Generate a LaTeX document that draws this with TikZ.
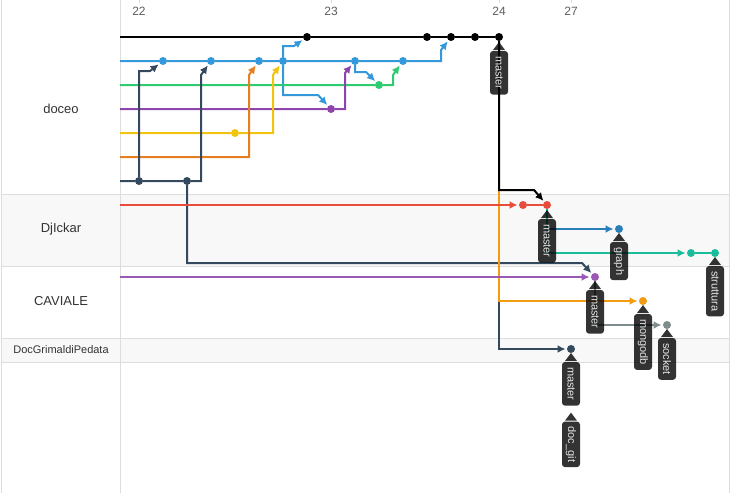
\documentclass[tikz,border=0pt]{standalone}
\usepackage{fontspec}
\setmainfont{Liberation Sans}
\usepackage{xcolor}
\usepackage{tikz}
\usetikzlibrary{arrows.meta}
\definecolor{Azure}{HTML}{3498DB}
\definecolor{Emerald}{HTML}{2ECC71}
\definecolor{Wisteria}{HTML}{8E44AD}
\definecolor{Sunflower}{HTML}{F1C40F}
\definecolor{Carrot}{HTML}{E67E22}
\definecolor{Slate}{HTML}{34495E}
\definecolor{Alizarin}{HTML}{E74C3C}
\definecolor{Ocean}{HTML}{2980B9}
\definecolor{Turquoise}{HTML}{1ABC9C}
\definecolor{Amethyst}{HTML}{9B59B6}
\definecolor{Amber}{HTML}{F39C12}
\definecolor{Asbestos}{HTML}{7F8C8D}
\definecolor{Grid}{HTML}{DDDDDD}
\definecolor{Shade}{HTML}{F8F8F8}
\definecolor{Ink}{HTML}{333333}
\newcommand{\reftag}[3]{%
  \node[reftag] (#1) at #2 {#3};
  \fill[black,fill opacity=0.8] ([xshift=-6pt]#1.west) -- ([yshift=8pt]#1.west) -- ([xshift=6pt]#1.west) -- cycle;}

\begin{document}
\begin{tikzpicture}[x=1pt,y=-1pt,line width=2pt,
  commit/.style={circle,fill=#1,inner sep=0pt,outer sep=0pt,minimum size=8pt},
  into/.style={-{Latex[length=8pt,width=8pt]},shorten >=1.5pt},
  reftag/.style={rotate=-90,anchor=west,fill=black,fill opacity=0.8,text opacity=1,
    text=white!90!black,rounded corners=3pt,inner xsep=5pt,inner ysep=0pt,minimum height=18pt,
    font=\fontsize{11}{11}\selectfont},
  gridline/.style={draw=Grid,line width=1pt},
  rowlabel/.style={text=Ink,font=\fontsize{13}{15}\selectfont}]
  \useasboundingbox (0,0) rectangle (731,493);
  \fill[Shade] (1,194) rectangle (729,266);
  \fill[Shade] (1,338) rectangle (729,362);
  \foreach \y in {194,266,338,362} \draw[gridline] (1,\y) -- (729,\y);
  \foreach \x in {1,120,729} \draw[gridline] (\x,0) -- (\x,493);
  \foreach \x/\d in {139/22,331/23,499/24,571/27} {
    \draw[gridline] (\x,0) -- (\x,3);
    \node[text=Ink!80,font=\fontsize{12}{14}\selectfont] (day\d) at (\x,11) {\d};
  }
  \node[rowlabel] (doceo) at (61,109) {doceo};
  \node[rowlabel] (djickar) at (61,229) {DjIckar};
  \node[rowlabel] (caviale) at (61,301) {CAVIALE};
  \node[rowlabel,font=\fontsize{11}{13}\selectfont] (docgrim) at (61,350) {DocGrimaldiPedata};

  \coordinate (sm) at (120,37);
  \coordinate (sb) at (120,61);
  \coordinate (sg) at (120,85);
  \coordinate (sp) at (120,109);
  \coordinate (sy) at (120,133);
  \coordinate (so) at (120,157);
  \coordinate (sn) at (120,181);
  \coordinate (sr) at (120,205);
  \coordinate (sc) at (120,277);

  \node[commit=black] (m1) at (307,37) {};
  \node[commit=black] (m2) at (427,37) {};
  \node[commit=black] (m3) at (451,37) {};
  \node[commit=black] (m4) at (475,37) {};
  \node[commit=black] (m5) at (499,37) {};
  \node[commit=Azure] (b1) at (163,61) {};
  \node[commit=Azure] (b2) at (211,61) {};
  \node[commit=Azure] (b3) at (259,61) {};
  \node[commit=Azure] (b4) at (283,61) {};
  \node[commit=Azure] (b5) at (355,61) {};
  \node[commit=Azure] (b6) at (403,61) {};
  \node[commit=Emerald] (g1) at (379,85) {};
  \node[commit=Wisteria] (p1) at (331,109) {};
  \node[commit=Sunflower] (y1) at (235,133) {};
  \node[commit=Slate] (n1) at (139,181) {};
  \node[commit=Slate] (n2) at (187,181) {};
  \node[commit=Alizarin] (r1) at (523,205) {};
  \node[commit=Alizarin] (r2) at (547,205) {};
  \node[commit=Ocean] (gr1) at (619,229) {};
  \node[commit=Turquoise] (t1) at (691,253) {};
  \node[commit=Turquoise] (t2) at (715,253) {};
  \node[commit=Amethyst] (c1) at (595,277) {};
  \node[commit=Amber] (o1) at (643,301) {};
  \node[commit=Asbestos] (s1) at (667,325) {};
  \node[commit=Slate] (d1) at (571,349) {};

  \draw (sm) -- (m1) -- (m2) -- (m3) -- (m4) -- (m5);
  \draw[Azure,into] (sb) -- (b1) -- (b2) -- (b3) -- (b4) -- (b5) -- (b6) -- ++(38,0) -- ++(0,-11) -- (m3);
  \draw[Azure,into] (b4) -- ++(0,-15) -- ++(11,0) -- (m1);
  \draw[Azure,into] (b4) -- ++(0,34) -- ++(35,0) -- (p1);
  \draw[Azure,into] (b5) -- ++(0,11) -- ++(11,0) -- (g1);
  \draw[Emerald,into] (sg) -- (g1) -- ++(14,0) -- ++(0,-10) -- (b6);
  \draw[Wisteria,into] (sp) -- (p1) -- ++(14,0) -- ++(0,-36) -- (b5);
  \draw[Sunflower,into] (sy) -- (y1) -- ++(38,0) -- ++(0,-58) -- (b4);
  \draw[Carrot,into] (so) -- ++(129,0) -- ++(0,-82) -- (b3);
  \draw[Slate,into] (sn) -- (n1) -- (n2) -- ++(14,0) -- ++(0,-106) -- (b2);
  \draw[Slate,into] (n1) -- ++(0,-110) -- ++(11,0) -- (b1);
  \draw[Slate,into] (n2) -- ++(0,82) -- ++(395,0) -- (c1);
  \draw[Slate,into] (m5) |- (d1);
  \draw[Amber,into] (m5) |- (o1);
  \draw[into] (m5) -- ++(0,153) -- ++(35,0) -- (r2);
  \draw[Alizarin,into] (sr) -- (r1);
  \draw[Alizarin] (r1) -- (r2);
  \draw[Ocean,into] (r2) |- (gr1);
  \draw[Turquoise,into] (r2) |- (t1);
  \draw[Turquoise] (t1) -- (t2);
  \draw[Amethyst,into] (sc) -- (c1);
  \draw[Asbestos,into] (c1) |- (s1);

  \reftag{tm5}{([yshift=-13pt]m5)}{master}
  \reftag{tr2}{([yshift=-13pt]r2)}{master}
  \reftag{tgr1}{([yshift=-12pt]gr1)}{graph}
  \reftag{tt2}{([yshift=-12pt]t2)}{struttura}
  \reftag{tc1}{([yshift=-12pt]c1)}{master}
  \reftag{to1}{([yshift=-12pt]o1)}{mongodb}
  \reftag{ts1}{([yshift=-12pt]s1)}{socket}
  \reftag{td1}{([yshift=-12pt]d1)}{master}
  \reftag{tdoc}{([yshift=-14pt]td1.east)}{doc\_git}
\end{tikzpicture}
\end{document}
